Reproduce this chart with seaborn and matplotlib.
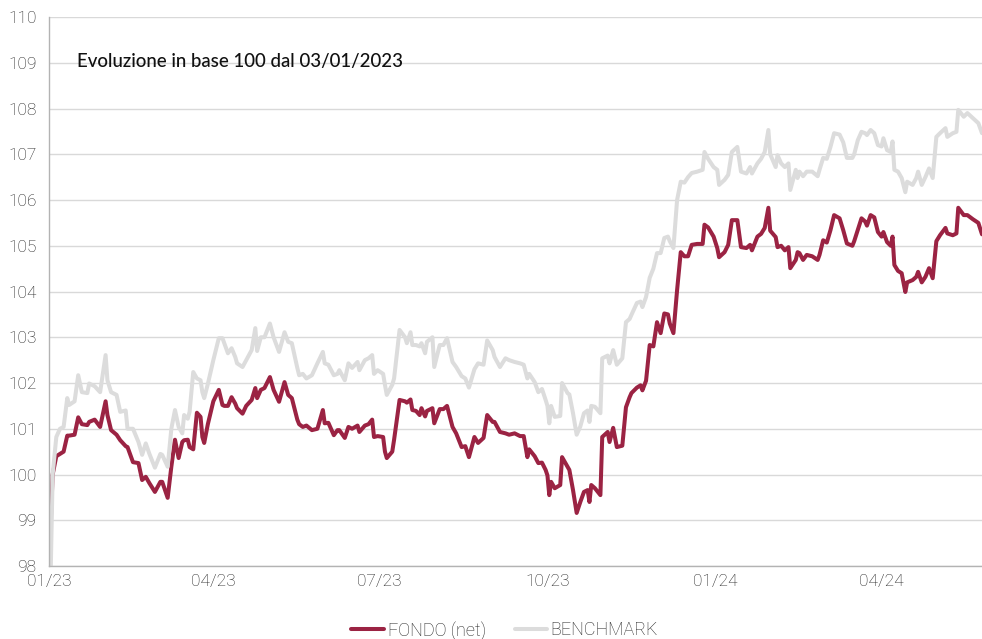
import matplotlib
matplotlib.use("Agg")
import matplotlib.pyplot as plt
import pandas as pd
import seaborn as sns

# values (base 100 at 03/01/2023)
dates = [
    "2023-01-02", "2023-01-03", "2023-01-05", "2023-01-07", "2023-01-09", "2023-01-11", "2023-01-12",
    "2023-01-15", "2023-01-17", "2023-01-19", "2023-01-22", "2023-01-23", "2023-01-26", "2023-01-29",
    "2023-02-01", "2023-02-02", "2023-02-04", "2023-02-07", "2023-02-09", "2023-02-12", "2023-02-13",
    "2023-02-16", "2023-02-19", "2023-02-21", "2023-02-23", "2023-02-25", "2023-02-28",
    "2023-03-03", "2023-03-04", "2023-03-07", "2023-03-09", "2023-03-11", "2023-03-13", "2023-03-15",
    "2023-03-16", "2023-03-18", "2023-03-19", "2023-03-21", "2023-03-23", "2023-03-25", "2023-03-26",
    "2023-03-27", "2023-03-29",
    "2023-04-01", "2023-04-04", "2023-04-06", "2023-04-07", "2023-04-09", "2023-04-11", "2023-04-13",
    "2023-04-14", "2023-04-17", "2023-04-19", "2023-04-22", "2023-04-24", "2023-04-25", "2023-04-27",
    "2023-04-29",
    "2023-05-02", "2023-05-04", "2023-05-07", "2023-05-10", "2023-05-12", "2023-05-14", "2023-05-17",
    "2023-05-18", "2023-05-20", "2023-05-22", "2023-05-25", "2023-05-28", "2023-05-31",
    "2023-06-01", "2023-06-03", "2023-06-06", "2023-06-08", "2023-06-09", "2023-06-12", "2023-06-14",
    "2023-06-16", "2023-06-19", "2023-06-20", "2023-06-23", "2023-06-25", "2023-06-27", "2023-06-28",
    "2023-06-30",
    "2023-07-03", "2023-07-04", "2023-07-05", "2023-07-08", "2023-07-09", "2023-07-12", "2023-07-15",
    "2023-07-16", "2023-07-18", "2023-07-19", "2023-07-21", "2023-07-23", "2023-07-24", "2023-07-26",
    "2023-07-27", "2023-07-30", "2023-07-31",
    "2023-08-03", "2023-08-05", "2023-08-07", "2023-08-10", "2023-08-12", "2023-08-15", "2023-08-17",
    "2023-08-19", "2023-08-22", "2023-08-24", "2023-08-27", "2023-08-29",
    "2023-09-01", "2023-09-02", "2023-09-05", "2023-09-08", "2023-09-10", "2023-09-13", "2023-09-16",
    "2023-09-18", "2023-09-20", "2023-09-21", "2023-09-24", "2023-09-26", "2023-09-28", "2023-09-30",
    "2023-10-01", "2023-10-02", "2023-10-03", "2023-10-05", "2023-10-08", "2023-10-09", "2023-10-12",
    "2023-10-13", "2023-10-15", "2023-10-17", "2023-10-19", "2023-10-21", "2023-10-23", "2023-10-24",
    "2023-10-25", "2023-10-27", "2023-10-30", "2023-10-31",
    "2023-11-03", "2023-11-04", "2023-11-06", "2023-11-08", "2023-11-11", "2023-11-13", "2023-11-15",
    "2023-11-16", "2023-11-19", "2023-11-21", "2023-11-22", "2023-11-24", "2023-11-26", "2023-11-28",
    "2023-11-30",
    "2023-12-02", "2023-12-04", "2023-12-06", "2023-12-07", "2023-12-09", "2023-12-11", "2023-12-13",
    "2023-12-15", "2023-12-17", "2023-12-19", "2023-12-22", "2023-12-25", "2023-12-26", "2023-12-28",
    "2023-12-31",
    "2024-01-02", "2024-01-03", "2024-01-06", "2024-01-08", "2024-01-10", "2024-01-13", "2024-01-15",
    "2024-01-18", "2024-01-20", "2024-01-21", "2024-01-24", "2024-01-26", "2024-01-28", "2024-01-30",
    "2024-01-31",
    "2024-02-03", "2024-02-04", "2024-02-06", "2024-02-08", "2024-02-10", "2024-02-11", "2024-02-14",
    "2024-02-15", "2024-02-16", "2024-02-18", "2024-02-20", "2024-02-23", "2024-02-26", "2024-02-27",
    "2024-02-29",
    "2024-03-02", "2024-03-04", "2024-03-06", "2024-03-09", "2024-03-11", "2024-03-13", "2024-03-16",
    "2024-03-17", "2024-03-19", "2024-03-21", "2024-03-23", "2024-03-24", "2024-03-26", "2024-03-28",
    "2024-03-30",
    "2024-04-01", "2024-04-02", "2024-04-04", "2024-04-06", "2024-04-07", "2024-04-08", "2024-04-10",
    "2024-04-12", "2024-04-14", "2024-04-15", "2024-04-18", "2024-04-20", "2024-04-21", "2024-04-23",
    "2024-04-25", "2024-04-27", "2024-04-29",
    "2024-05-01", "2024-05-03", "2024-05-06", "2024-05-07", "2024-05-10", "2024-05-12", "2024-05-13",
    "2024-05-16", "2024-05-18", "2024-05-21", "2024-05-24", "2024-05-26",
]

fondo = [
    99.0, 100.0, 100.4, 100.45, 100.5, 100.85, 100.85,
    100.87, 101.25, 101.1, 101.08, 101.15, 101.2, 101.04,
    101.6, 101.3, 100.97, 100.87, 100.75, 100.62, 100.6,
    100.27, 100.25, 99.88, 99.95, 99.81, 99.62,
    99.84, 99.84, 99.49, 100.17, 100.76, 100.36, 100.71,
    100.75, 100.76, 100.6, 100.55, 101.35, 101.26, 100.82,
    100.69, 101.1,
    101.6, 101.85, 101.52, 101.5, 101.5, 101.69, 101.55,
    101.45, 101.33, 101.5, 101.63, 101.89, 101.67, 101.85,
    101.89,
    102.13, 101.85, 101.59, 102.02, 101.74, 101.67, 101.2,
    101.1, 101.04, 101.07, 100.97, 101.0, 101.41,
    101.12, 101.13, 100.86, 100.97, 100.97, 100.8, 101.04,
    101.0, 101.07, 100.93, 101.07, 101.1, 101.2, 100.82,
    100.84,
    100.82, 100.5, 100.36, 100.5, 100.76, 101.63, 101.6,
    101.57, 101.64, 101.41, 101.39, 101.3, 101.45, 101.27,
    101.39, 101.45, 101.12,
    101.43, 101.43, 101.5, 101.04, 100.9, 100.6, 100.62,
    100.38, 100.82, 100.69, 100.8, 101.3,
    101.15, 101.15, 100.93, 100.9, 100.87, 100.9, 100.84,
    100.84, 100.38, 100.55, 100.4, 100.25, 100.26, 100.1,
    99.98, 99.55, 99.84, 99.7, 99.77, 100.38, 100.17,
    100.1, 99.66, 99.16, 99.4, 99.62, 99.66, 99.4,
    99.77, 99.7, 99.55, 100.82,
    100.93, 100.71, 101.02, 100.6, 100.63, 101.47, 101.69,
    101.78, 101.9, 101.95, 101.84, 102.05, 102.83, 102.8,
    103.33,
    103.09, 103.52, 103.5, 103.3, 103.09, 104.03, 104.86,
    104.77, 104.77, 105.02, 105.04, 105.04, 105.46, 105.4,
    105.2,
    104.95, 104.75, 104.86, 105.02, 105.56, 105.56, 104.97,
    104.95, 105.02, 104.9, 105.2, 105.26, 105.39, 105.83,
    105.33,
    105.19, 104.97, 105.0, 104.9, 104.97, 104.51, 104.69,
    104.86, 104.84, 104.69, 104.8, 104.77, 104.69, 104.8,
    105.12,
    105.07, 105.34, 105.67, 105.6, 105.34, 105.05, 105.0,
    105.1, 105.35, 105.6, 105.53, 105.44, 105.67, 105.62,
    105.3,
    105.2, 105.3, 105.08, 105.0, 105.2, 104.58, 104.45,
    104.4, 103.99, 104.2, 104.25, 104.32, 104.43, 104.2,
    104.32, 104.51, 104.29,
    105.1, 105.23, 105.39, 105.27, 105.23, 105.27, 105.83,
    105.67, 105.67, 105.58, 105.5, 105.25,
]

benchmark = [
    98.0, 100.0, 100.82, 101.0, 101.04, 101.67, 101.52,
    101.6, 102.17, 101.8, 101.78, 101.99, 101.93, 101.8,
    102.61, 102.06, 101.8, 101.74, 101.37, 101.4, 101.0,
    101.0, 100.71, 100.43, 100.68, 100.45, 100.15,
    100.45, 100.43, 100.17, 101.0, 101.41, 101.04, 100.9,
    101.3, 101.22, 101.37, 102.24, 102.1, 102.06, 101.8,
    101.67, 101.98,
    102.5, 102.98, 102.98, 102.87, 102.65, 102.76, 102.57,
    102.43, 102.35, 102.5, 102.72, 103.2, 102.7, 103.0,
    103.0,
    103.3, 103.0, 102.68, 103.11, 102.9, 102.87, 102.33,
    102.17, 102.2, 102.1, 102.17, 102.43, 102.68,
    102.43, 102.4, 102.17, 102.2, 102.28, 102.06, 102.43,
    102.33, 102.46, 102.28, 102.5, 102.54, 102.61, 102.2,
    102.28,
    102.2, 101.96, 101.74, 101.96, 102.1, 103.16, 103.0,
    102.87, 103.11, 102.83, 102.83, 102.8, 102.87, 102.65,
    102.9, 103.0, 102.35,
    102.83, 102.83, 102.98, 102.46, 102.35, 102.15, 102.1,
    101.9, 102.3, 102.43, 102.4, 102.93,
    102.72, 102.57, 102.35, 102.54, 102.5, 102.46, 102.43,
    102.4, 102.1, 102.2, 102.02, 101.8, 101.87, 101.63,
    101.5, 101.12, 101.5, 101.26, 101.28, 102.0, 101.78,
    101.75, 101.34, 100.87, 101.05, 101.34, 101.4, 101.15,
    101.5, 101.48, 101.34, 102.54,
    102.6, 102.43, 102.72, 102.4, 102.54, 103.33, 103.4,
    103.49, 103.75, 103.78, 103.66, 103.88, 104.3, 104.5,
    104.84,
    104.84, 105.17, 105.2, 105.1, 104.95, 106.0, 106.4,
    106.38, 106.5, 106.59, 106.62, 106.66, 107.05, 106.9,
    106.72,
    106.66, 106.33, 106.44, 106.55, 107.05, 107.16, 106.62,
    106.58, 106.72, 106.58, 106.8, 106.9, 107.05, 107.53,
    107.0,
    106.72, 106.98, 106.8, 106.72, 106.8, 106.22, 106.66,
    106.48, 106.62, 106.52, 106.62, 106.62, 106.52, 106.66,
    106.92,
    106.9, 107.16, 107.46, 107.43, 107.26, 106.92, 106.92,
    107.0, 107.31, 107.49, 107.46, 107.42, 107.53, 107.46,
    107.2,
    107.17, 107.35, 107.09, 107.05, 107.28, 106.66, 106.62,
    106.48, 106.17, 106.4, 106.33, 106.48, 106.62, 106.33,
    106.5, 106.69, 106.48,
    107.38, 107.46, 107.57, 107.38, 107.46, 107.49, 107.97,
    107.82, 107.9, 107.79, 107.68, 107.46,
]

series_names = ["FONDO (net)", "BENCHMARK"]
series_colors = ["#9b2343", "#dcdcdc"]
y_ticks = list(range(98, 111))
x_ticks = ["2023-01-01", "2023-04-01", "2023-07-01", "2023-10-01", "2024-01-01", "2024-04-01"]
x_tick_labels = ["01/23", "04/23", "07/23", "10/23", "01/24", "04/24"]
title = "Evoluzione in base 100 dal 03/01/2023"

df = pd.DataFrame({"date": pd.to_datetime(dates), series_names[0]: fondo, series_names[1]: benchmark})
long_df = df.melt(id_vars="date", var_name="serie", value_name="valore")

sns.set_style("white")
plt.rcParams["font.family"] = ["Roboto", "DejaVu Sans"]
plt.rcParams["font.weight"] = "light"

fig = plt.figure(figsize=(9.82, 6.39), dpi=100)
ax = fig.add_axes([0.0499, 0.1142, 0.9501, 0.8592])

sns.lineplot(data=long_df, x="date", y="valore", hue="serie", hue_order=series_names,
             palette=series_colors, linewidth=2.9, ax=ax)

ax.set_ylim(98, 110)
ax.set_xlim(pd.Timestamp("2023-01-01"), pd.Timestamp(dates[-1]))
ax.set_yticks(y_ticks)
ax.set_xticks(pd.to_datetime(x_ticks))
ax.set_xticklabels(x_tick_labels)
ax.set_xlabel("")
ax.set_ylabel("")

ax.yaxis.grid(True, color="#d9d9d9", linewidth=1)
ax.xaxis.grid(False)
ax.set_axisbelow(True)
for side in ["top", "right"]:
    ax.spines[side].set_visible(False)
for side in ["left", "bottom"]:
    ax.spines[side].set_color("#b3b3b3")
    ax.spines[side].set_linewidth(1)
ax.tick_params(axis="y", direction="out", length=5, width=1, color="#b3b3b3",
               labelsize=12.5, labelcolor="#222222", pad=4)
ax.tick_params(axis="x", direction="inout", length=5, width=1, color="#b3b3b3",
               labelsize=12.5, labelcolor="#222222", pad=3)

ax.legend_.remove()
handles, labels = ax.get_legend_handles_labels()
fig.legend(handles, labels, loc="center", bbox_to_anchor=(0.514, 0.014), ncol=2,
           frameon=False, fontsize=13, handlelength=1.8, handletextpad=0.2,
           columnspacing=1.6, labelcolor="#222222")

fig.text(77 / 982, 1 - 61 / 639, title, va="center", ha="left",
         fontsize=13.4, color="#111111", weight="medium", family=["Lato", "DejaVu Sans"])

fig.savefig("out.png", dpi=100)
